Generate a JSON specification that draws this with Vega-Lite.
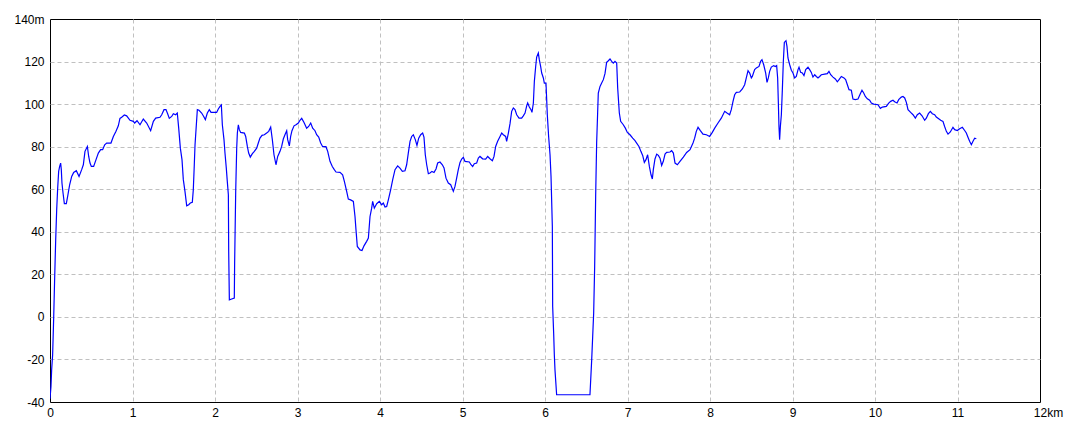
{
  "$schema": "https://vega.github.io/schema/vega-lite/v6.json",
  "autosize": {"type": "none"},
  "padding": {"left": 50, "top": 19, "right": 40, "bottom": 30},
  "width": 990,
  "height": 383,
  "background": "#ffffff",
  "config": {
    "view": {"stroke": "#000000", "strokeWidth": 1},
    "axis": {
      "domain": false,
      "ticks": false,
      "grid": true,
      "gridColor": "#c0c0c0",
      "gridDash": [4, 3],
      "gridWidth": 1,
      "labelFont": "Liberation Sans",
      "labelFontSize": 12,
      "labelColor": "#000000",
      "title": null
    }
  },
  "data": {
    "values": [
      {"d": 0.000, "h": -38.5}, {"d": 0.012, "h": -32.7}, {"d": 0.020, "h": -24.9}, {"d": 0.032, "h": -17.8},
      {"d": 0.044, "h": -1.4}, {"d": 0.057, "h": 19.0}, {"d": 0.069, "h": 36.2}, {"d": 0.081, "h": 50.3},
      {"d": 0.093, "h": 60.5}, {"d": 0.105, "h": 68.4}, {"d": 0.117, "h": 70.7}, {"d": 0.129, "h": 72.3},
      {"d": 0.137, "h": 69.2}, {"d": 0.145, "h": 62.9}, {"d": 0.158, "h": 58.2}, {"d": 0.174, "h": 53.2},
      {"d": 0.198, "h": 53.2}, {"d": 0.214, "h": 56.6}, {"d": 0.238, "h": 62.1}, {"d": 0.263, "h": 66.0},
      {"d": 0.287, "h": 67.9}, {"d": 0.319, "h": 68.7}, {"d": 0.352, "h": 66.0}, {"d": 0.384, "h": 69.2},
      {"d": 0.404, "h": 71.5}, {"d": 0.424, "h": 77.8}, {"d": 0.453, "h": 80.1}, {"d": 0.469, "h": 75.4},
      {"d": 0.485, "h": 72.3}, {"d": 0.501, "h": 70.7}, {"d": 0.529, "h": 70.7}, {"d": 0.558, "h": 73.9},
      {"d": 0.586, "h": 77.0}, {"d": 0.614, "h": 78.6}, {"d": 0.638, "h": 78.6}, {"d": 0.663, "h": 80.9},
      {"d": 0.687, "h": 81.7}, {"d": 0.739, "h": 81.7}, {"d": 0.768, "h": 84.8}, {"d": 0.800, "h": 87.2},
      {"d": 0.828, "h": 89.8}, {"d": 0.848, "h": 93.3}, {"d": 0.869, "h": 93.8}, {"d": 0.901, "h": 94.9},
      {"d": 0.929, "h": 94.5}, {"d": 0.970, "h": 92.4}, {"d": 1.010, "h": 91.9}, {"d": 1.026, "h": 91.1},
      {"d": 1.055, "h": 92.2}, {"d": 1.091, "h": 90.3}, {"d": 1.131, "h": 93.0}, {"d": 1.172, "h": 91.1},
      {"d": 1.220, "h": 87.5}, {"d": 1.253, "h": 91.9}, {"d": 1.281, "h": 93.4}, {"d": 1.333, "h": 93.8},
      {"d": 1.354, "h": 95.0}, {"d": 1.382, "h": 97.4}, {"d": 1.406, "h": 97.4}, {"d": 1.426, "h": 95.5},
      {"d": 1.446, "h": 93.3}, {"d": 1.475, "h": 94.2}, {"d": 1.495, "h": 95.5}, {"d": 1.523, "h": 95.0},
      {"d": 1.543, "h": 95.8}, {"d": 1.560, "h": 88.7}, {"d": 1.580, "h": 79.3}, {"d": 1.600, "h": 73.9},
      {"d": 1.616, "h": 64.5}, {"d": 1.636, "h": 59.0}, {"d": 1.657, "h": 52.2}, {"d": 1.681, "h": 52.7},
      {"d": 1.701, "h": 53.5}, {"d": 1.725, "h": 53.8}, {"d": 1.737, "h": 59.7}, {"d": 1.749, "h": 71.5},
      {"d": 1.758, "h": 80.9}, {"d": 1.770, "h": 88.0}, {"d": 1.786, "h": 97.4}, {"d": 1.806, "h": 97.1},
      {"d": 1.838, "h": 95.8}, {"d": 1.863, "h": 94.2}, {"d": 1.883, "h": 92.7}, {"d": 1.907, "h": 95.8},
      {"d": 1.931, "h": 97.4}, {"d": 1.952, "h": 96.1}, {"d": 2.020, "h": 96.1}, {"d": 2.040, "h": 97.7},
      {"d": 2.061, "h": 98.9}, {"d": 2.077, "h": 99.6}, {"d": 2.089, "h": 90.3}, {"d": 2.109, "h": 83.3},
      {"d": 2.121, "h": 77.0}, {"d": 2.137, "h": 69.9}, {"d": 2.149, "h": 63.7}, {"d": 2.162, "h": 57.4},
      {"d": 2.166, "h": 30.8}, {"d": 2.174, "h": 8.0}, {"d": 2.194, "h": 8.3}, {"d": 2.234, "h": 8.8},
      {"d": 2.238, "h": 25.3}, {"d": 2.251, "h": 59.0}, {"d": 2.263, "h": 79.3}, {"d": 2.271, "h": 86.4},
      {"d": 2.283, "h": 90.3}, {"d": 2.295, "h": 88.0}, {"d": 2.311, "h": 86.7}, {"d": 2.356, "h": 86.4},
      {"d": 2.372, "h": 84.8}, {"d": 2.392, "h": 80.1}, {"d": 2.408, "h": 77.0}, {"d": 2.428, "h": 75.1},
      {"d": 2.453, "h": 76.7}, {"d": 2.477, "h": 77.8}, {"d": 2.505, "h": 79.3}, {"d": 2.525, "h": 81.7},
      {"d": 2.545, "h": 84.0}, {"d": 2.570, "h": 85.3}, {"d": 2.598, "h": 85.6}, {"d": 2.626, "h": 86.4},
      {"d": 2.651, "h": 87.2}, {"d": 2.675, "h": 89.2}, {"d": 2.695, "h": 83.3}, {"d": 2.715, "h": 76.2},
      {"d": 2.739, "h": 71.5}, {"d": 2.760, "h": 75.4}, {"d": 2.788, "h": 77.8}, {"d": 2.808, "h": 80.1},
      {"d": 2.828, "h": 83.6}, {"d": 2.848, "h": 85.6}, {"d": 2.869, "h": 87.5}, {"d": 2.881, "h": 83.3},
      {"d": 2.901, "h": 80.4}, {"d": 2.917, "h": 84.8}, {"d": 2.933, "h": 87.5}, {"d": 2.958, "h": 89.8},
      {"d": 2.982, "h": 90.3}, {"d": 3.010, "h": 91.1}, {"d": 3.030, "h": 92.4}, {"d": 3.051, "h": 93.3},
      {"d": 3.079, "h": 91.4}, {"d": 3.111, "h": 88.7}, {"d": 3.135, "h": 89.5}, {"d": 3.160, "h": 91.1},
      {"d": 3.184, "h": 88.7}, {"d": 3.212, "h": 87.5}, {"d": 3.232, "h": 85.6}, {"d": 3.257, "h": 84.5},
      {"d": 3.281, "h": 81.7}, {"d": 3.305, "h": 80.0}, {"d": 3.345, "h": 80.0}, {"d": 3.366, "h": 77.8},
      {"d": 3.394, "h": 73.1}, {"d": 3.422, "h": 70.7}, {"d": 3.446, "h": 69.2}, {"d": 3.467, "h": 68.1},
      {"d": 3.515, "h": 67.9}, {"d": 3.547, "h": 66.8}, {"d": 3.568, "h": 63.7}, {"d": 3.596, "h": 59.0},
      {"d": 3.616, "h": 55.4}, {"d": 3.644, "h": 55.0}, {"d": 3.677, "h": 54.3}, {"d": 3.697, "h": 47.2},
      {"d": 3.709, "h": 40.9}, {"d": 3.725, "h": 33.1}, {"d": 3.758, "h": 31.5}, {"d": 3.782, "h": 31.2},
      {"d": 3.806, "h": 33.4}, {"d": 3.838, "h": 35.5}, {"d": 3.859, "h": 37.0}, {"d": 3.879, "h": 47.2},
      {"d": 3.899, "h": 51.1}, {"d": 3.911, "h": 54.3}, {"d": 3.931, "h": 51.1}, {"d": 3.960, "h": 53.2},
      {"d": 3.992, "h": 54.3}, {"d": 4.020, "h": 52.7}, {"d": 4.040, "h": 53.5}, {"d": 4.061, "h": 51.6},
      {"d": 4.081, "h": 51.9}, {"d": 4.101, "h": 55.0}, {"d": 4.129, "h": 59.7}, {"d": 4.154, "h": 64.5},
      {"d": 4.182, "h": 69.2}, {"d": 4.214, "h": 71.0}, {"d": 4.242, "h": 69.9}, {"d": 4.271, "h": 68.4},
      {"d": 4.303, "h": 68.7}, {"d": 4.323, "h": 71.5}, {"d": 4.343, "h": 77.0}, {"d": 4.364, "h": 82.5},
      {"d": 4.384, "h": 84.8}, {"d": 4.404, "h": 85.6}, {"d": 4.428, "h": 83.3}, {"d": 4.448, "h": 80.6},
      {"d": 4.469, "h": 84.0}, {"d": 4.493, "h": 85.6}, {"d": 4.517, "h": 86.4}, {"d": 4.533, "h": 84.5},
      {"d": 4.549, "h": 76.2}, {"d": 4.566, "h": 71.5}, {"d": 4.586, "h": 67.3}, {"d": 4.606, "h": 67.6},
      {"d": 4.630, "h": 68.4}, {"d": 4.655, "h": 67.9}, {"d": 4.679, "h": 69.5}, {"d": 4.699, "h": 72.3},
      {"d": 4.727, "h": 72.8}, {"d": 4.756, "h": 71.5}, {"d": 4.776, "h": 70.0}, {"d": 4.800, "h": 65.2},
      {"d": 4.828, "h": 62.9}, {"d": 4.857, "h": 62.1}, {"d": 4.889, "h": 59.0}, {"d": 4.909, "h": 61.3},
      {"d": 4.929, "h": 65.2}, {"d": 4.949, "h": 69.2}, {"d": 4.970, "h": 72.6}, {"d": 4.990, "h": 74.2},
      {"d": 5.010, "h": 75.0}, {"d": 5.030, "h": 73.1}, {"d": 5.083, "h": 72.8}, {"d": 5.103, "h": 71.5},
      {"d": 5.123, "h": 70.7}, {"d": 5.143, "h": 72.0}, {"d": 5.172, "h": 72.3}, {"d": 5.192, "h": 74.6},
      {"d": 5.212, "h": 75.4}, {"d": 5.244, "h": 74.3}, {"d": 5.281, "h": 74.2}, {"d": 5.305, "h": 75.4},
      {"d": 5.333, "h": 74.3}, {"d": 5.362, "h": 73.4}, {"d": 5.382, "h": 75.4}, {"d": 5.402, "h": 80.1},
      {"d": 5.426, "h": 82.5}, {"d": 5.455, "h": 84.8}, {"d": 5.475, "h": 86.4}, {"d": 5.495, "h": 85.6},
      {"d": 5.523, "h": 84.8}, {"d": 5.535, "h": 82.5}, {"d": 5.556, "h": 86.4}, {"d": 5.576, "h": 90.8},
      {"d": 5.596, "h": 96.6}, {"d": 5.616, "h": 98.2}, {"d": 5.636, "h": 97.4}, {"d": 5.657, "h": 95.0},
      {"d": 5.685, "h": 93.4}, {"d": 5.717, "h": 93.4}, {"d": 5.737, "h": 94.5}, {"d": 5.758, "h": 95.8},
      {"d": 5.778, "h": 99.2}, {"d": 5.790, "h": 100.5}, {"d": 5.810, "h": 98.6}, {"d": 5.830, "h": 97.4},
      {"d": 5.842, "h": 96.1}, {"d": 5.859, "h": 100.5}, {"d": 5.871, "h": 110.7}, {"d": 5.887, "h": 117.7},
      {"d": 5.899, "h": 122.1}, {"d": 5.919, "h": 124.0}, {"d": 5.931, "h": 120.9}, {"d": 5.947, "h": 117.7},
      {"d": 5.960, "h": 114.6}, {"d": 5.980, "h": 112.3}, {"d": 5.992, "h": 109.9}, {"d": 6.012, "h": 109.9},
      {"d": 6.028, "h": 95.0}, {"d": 6.044, "h": 84.8}, {"d": 6.061, "h": 76.2}, {"d": 6.073, "h": 66.0},
      {"d": 6.089, "h": 42.5}, {"d": 6.093, "h": 4.9}, {"d": 6.105, "h": -7.7}, {"d": 6.113, "h": -17.8},
      {"d": 6.121, "h": -24.9}, {"d": 6.141, "h": -36.6}, {"d": 6.545, "h": -36.6}, {"d": 6.566, "h": -20.2},
      {"d": 6.578, "h": -9.2}, {"d": 6.590, "h": 1.8}, {"d": 6.602, "h": 23.7}, {"d": 6.614, "h": 56.6},
      {"d": 6.626, "h": 81.7}, {"d": 6.638, "h": 95.8}, {"d": 6.646, "h": 105.2}, {"d": 6.667, "h": 108.3},
      {"d": 6.687, "h": 109.9}, {"d": 6.707, "h": 111.5}, {"d": 6.727, "h": 114.3}, {"d": 6.747, "h": 119.6},
      {"d": 6.768, "h": 120.4}, {"d": 6.788, "h": 121.2}, {"d": 6.808, "h": 120.1}, {"d": 6.828, "h": 119.3},
      {"d": 6.848, "h": 120.1}, {"d": 6.869, "h": 119.3}, {"d": 6.881, "h": 107.6}, {"d": 6.901, "h": 95.8},
      {"d": 6.917, "h": 91.9}, {"d": 6.949, "h": 90.3}, {"d": 6.974, "h": 88.7}, {"d": 6.998, "h": 86.7},
      {"d": 7.030, "h": 85.6}, {"d": 7.063, "h": 84.0}, {"d": 7.091, "h": 82.8}, {"d": 7.111, "h": 81.7},
      {"d": 7.139, "h": 80.1}, {"d": 7.162, "h": 77.8}, {"d": 7.184, "h": 75.9}, {"d": 7.204, "h": 72.6},
      {"d": 7.224, "h": 73.9}, {"d": 7.244, "h": 76.2}, {"d": 7.265, "h": 70.7}, {"d": 7.285, "h": 66.8},
      {"d": 7.301, "h": 64.8}, {"d": 7.313, "h": 69.2}, {"d": 7.333, "h": 74.2}, {"d": 7.354, "h": 76.5},
      {"d": 7.374, "h": 75.9}, {"d": 7.394, "h": 74.6}, {"d": 7.414, "h": 71.2}, {"d": 7.434, "h": 73.1},
      {"d": 7.455, "h": 76.5}, {"d": 7.475, "h": 77.3}, {"d": 7.515, "h": 77.5}, {"d": 7.535, "h": 78.1},
      {"d": 7.556, "h": 77.0}, {"d": 7.576, "h": 72.3}, {"d": 7.604, "h": 71.5}, {"d": 7.636, "h": 73.1},
      {"d": 7.677, "h": 75.1}, {"d": 7.717, "h": 77.3}, {"d": 7.758, "h": 78.6}, {"d": 7.794, "h": 81.7},
      {"d": 7.814, "h": 84.0}, {"d": 7.834, "h": 87.2}, {"d": 7.855, "h": 89.1}, {"d": 7.883, "h": 87.5},
      {"d": 7.915, "h": 85.9}, {"d": 7.956, "h": 85.6}, {"d": 7.996, "h": 84.8}, {"d": 8.028, "h": 86.7},
      {"d": 8.057, "h": 88.7}, {"d": 8.097, "h": 91.1}, {"d": 8.137, "h": 93.4}, {"d": 8.178, "h": 96.6},
      {"d": 8.206, "h": 95.8}, {"d": 8.238, "h": 95.0}, {"d": 8.258, "h": 97.4}, {"d": 8.279, "h": 101.3},
      {"d": 8.299, "h": 104.4}, {"d": 8.319, "h": 105.5}, {"d": 8.360, "h": 105.7}, {"d": 8.392, "h": 107.1},
      {"d": 8.420, "h": 109.1}, {"d": 8.440, "h": 112.3}, {"d": 8.461, "h": 115.7}, {"d": 8.481, "h": 114.6},
      {"d": 8.501, "h": 112.3}, {"d": 8.513, "h": 113.0}, {"d": 8.541, "h": 116.2}, {"d": 8.562, "h": 117.0},
      {"d": 8.594, "h": 117.7}, {"d": 8.614, "h": 120.1}, {"d": 8.630, "h": 120.9}, {"d": 8.651, "h": 118.5},
      {"d": 8.675, "h": 114.6}, {"d": 8.691, "h": 110.2}, {"d": 8.707, "h": 112.3}, {"d": 8.723, "h": 115.4},
      {"d": 8.743, "h": 117.4}, {"d": 8.772, "h": 118.1}, {"d": 8.792, "h": 117.7}, {"d": 8.808, "h": 118.1},
      {"d": 8.820, "h": 112.3}, {"d": 8.828, "h": 101.3}, {"d": 8.836, "h": 89.5}, {"d": 8.844, "h": 83.3},
      {"d": 8.853, "h": 89.5}, {"d": 8.865, "h": 95.0}, {"d": 8.877, "h": 106.8}, {"d": 8.889, "h": 120.1},
      {"d": 8.901, "h": 129.0}, {"d": 8.921, "h": 129.8}, {"d": 8.933, "h": 127.1}, {"d": 8.945, "h": 121.7},
      {"d": 8.966, "h": 118.5}, {"d": 8.986, "h": 115.9}, {"d": 9.006, "h": 114.6}, {"d": 9.026, "h": 112.3},
      {"d": 9.046, "h": 113.0}, {"d": 9.067, "h": 116.2}, {"d": 9.079, "h": 117.3}, {"d": 9.099, "h": 114.9},
      {"d": 9.119, "h": 114.6}, {"d": 9.139, "h": 113.4}, {"d": 9.160, "h": 116.2}, {"d": 9.188, "h": 117.3},
      {"d": 9.208, "h": 116.2}, {"d": 9.228, "h": 114.9}, {"d": 9.248, "h": 112.7}, {"d": 9.269, "h": 113.8},
      {"d": 9.289, "h": 113.0}, {"d": 9.309, "h": 112.3}, {"d": 9.329, "h": 113.0}, {"d": 9.349, "h": 113.8},
      {"d": 9.390, "h": 114.1}, {"d": 9.422, "h": 114.3}, {"d": 9.442, "h": 115.4}, {"d": 9.463, "h": 113.8},
      {"d": 9.491, "h": 112.7}, {"d": 9.519, "h": 111.8}, {"d": 9.543, "h": 110.5}, {"d": 9.564, "h": 111.5},
      {"d": 9.592, "h": 113.0}, {"d": 9.624, "h": 112.3}, {"d": 9.644, "h": 111.5}, {"d": 9.665, "h": 109.1},
      {"d": 9.685, "h": 106.8}, {"d": 9.713, "h": 106.5}, {"d": 9.733, "h": 102.4}, {"d": 9.762, "h": 102.1},
      {"d": 9.794, "h": 102.4}, {"d": 9.822, "h": 104.9}, {"d": 9.842, "h": 106.5}, {"d": 9.863, "h": 105.2},
      {"d": 9.883, "h": 103.6}, {"d": 9.907, "h": 102.5}, {"d": 9.935, "h": 101.8}, {"d": 9.956, "h": 100.5},
      {"d": 9.984, "h": 100.0}, {"d": 10.036, "h": 99.7}, {"d": 10.065, "h": 98.0}, {"d": 10.089, "h": 98.6},
      {"d": 10.137, "h": 98.9}, {"d": 10.166, "h": 100.5}, {"d": 10.190, "h": 101.3}, {"d": 10.218, "h": 101.8},
      {"d": 10.238, "h": 101.1}, {"d": 10.267, "h": 100.5}, {"d": 10.287, "h": 102.1}, {"d": 10.319, "h": 103.3},
      {"d": 10.339, "h": 103.6}, {"d": 10.360, "h": 102.9}, {"d": 10.380, "h": 100.8}, {"d": 10.400, "h": 97.4},
      {"d": 10.432, "h": 96.1}, {"d": 10.461, "h": 95.0}, {"d": 10.489, "h": 93.4}, {"d": 10.513, "h": 95.0},
      {"d": 10.541, "h": 95.8}, {"d": 10.570, "h": 94.5}, {"d": 10.602, "h": 92.4}, {"d": 10.622, "h": 93.4},
      {"d": 10.647, "h": 95.5}, {"d": 10.671, "h": 96.6}, {"d": 10.695, "h": 95.5}, {"d": 10.723, "h": 95.0},
      {"d": 10.743, "h": 93.9}, {"d": 10.772, "h": 93.1}, {"d": 10.796, "h": 92.4}, {"d": 10.824, "h": 91.9},
      {"d": 10.844, "h": 89.5}, {"d": 10.865, "h": 87.2}, {"d": 10.885, "h": 85.9}, {"d": 10.913, "h": 86.9},
      {"d": 10.945, "h": 89.1}, {"d": 10.966, "h": 88.0}, {"d": 10.998, "h": 87.6}, {"d": 11.026, "h": 88.4},
      {"d": 11.059, "h": 89.1}, {"d": 11.087, "h": 87.6}, {"d": 11.107, "h": 86.4}, {"d": 11.127, "h": 84.4},
      {"d": 11.147, "h": 82.5}, {"d": 11.168, "h": 80.9}, {"d": 11.188, "h": 82.5}, {"d": 11.208, "h": 84.0},
      {"d": 11.228, "h": 83.7}
    ]
  },
  "mark": {"type": "line", "color": "#0000ff", "strokeWidth": 1.2, "clip": true},
  "encoding": {
    "x": {
      "field": "d",
      "type": "quantitative",
      "scale": {"domain": [0, 12], "nice": false, "zero": false},
      "axis": {
        "values": [0, 1, 2, 3, 4, 5, 6, 7, 8, 9, 10, 11, 12],
        "labelFlush": false,
        "labelPadding": 5,
        "labelExpr": "datum.value == 12 ? '12km' : '' + datum.value",
        "labelOffset": {"condition": {"test": "datum.value == 12", "value": 8}, "value": 0},
        "gridOpacity": {"condition": {"test": "datum.value == 0 || datum.value == 12", "value": 0}, "value": 1}
      }
    },
    "y": {
      "field": "h",
      "type": "quantitative",
      "scale": {"domain": [-40, 140], "nice": false, "zero": false},
      "axis": {
        "values": [-40, -20, 0, 20, 40, 60, 80, 100, 120, 140],
        "labelFlush": false,
        "labelPadding": 6,
        "labelExpr": "datum.value == 140 ? '140m' : '' + datum.value",
        "gridOpacity": {"condition": {"test": "datum.value == -40 || datum.value == 140", "value": 0}, "value": 1}
      }
    }
  }
}
